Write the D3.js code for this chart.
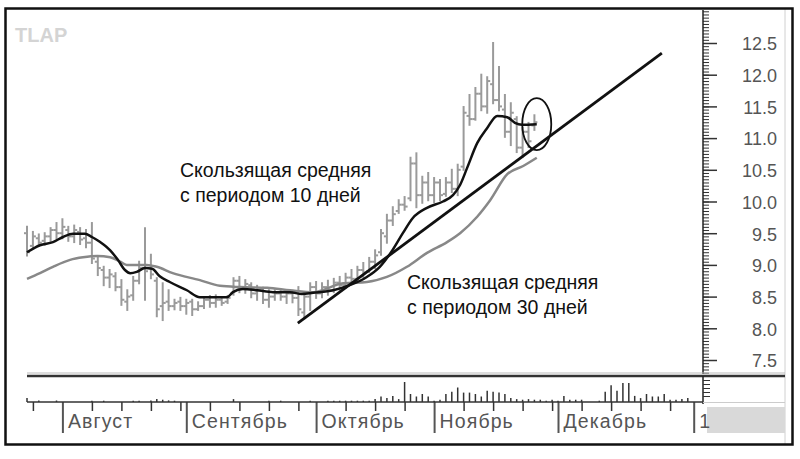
<!DOCTYPE html>
<html>
<head>
<meta charset="utf-8">
<script src="https://cdnjs.cloudflare.com/ajax/libs/d3/7.8.5/d3.min.js"></script>
<style>
  body { margin: 0; background: #fff; }
  text { font-family: Arial, "Liberation Sans", sans-serif; }
</style>
</head>
<body>
<script>
// Daily price bars (trading day index 0..86)
var barHigh = [9.60, 9.52, 9.48, 9.50, 9.58, 9.66, 9.72, 9.60, 9.62, 9.58,
  9.55, 9.66, 9.12, 8.97, 8.92, 8.87, 8.76, 8.60, 8.81, 9.05,
  9.58, 9.16, 8.79, 8.71, 8.60, 8.45, 8.48, 8.45, 8.45, 8.41,
  8.48, 8.51, 8.52, 8.49, 8.51, 8.79, 8.81, 8.76, 8.71, 8.67,
  8.64, 8.60, 8.60, 8.60, 8.60, 8.59, 8.65, 8.56, 8.71, 8.73,
  8.71, 8.75, 8.78, 8.81, 8.86, 8.92, 8.97, 9.03, 9.11, 9.23,
  9.55, 9.79, 9.91, 10.02, 10.07, 10.69, 10.76, 10.39, 10.45, 10.37,
  10.34, 10.37, 10.50, 10.58, 11.49, 11.68, 11.79, 12.00, 11.96, 12.50,
  12.12, 11.68, 11.55, 11.33, 11.16, 11.24, 11.36];
var barLow = [9.15, 9.28, 9.30, 9.32, 9.38, 9.42, 9.42, 9.38, 9.36, 9.33,
  9.28, 9.03, 8.84, 8.68, 8.65, 8.60, 8.37, 8.29, 8.45, 8.71,
  8.45, 8.79, 8.19, 8.13, 8.29, 8.30, 8.29, 8.23, 8.21, 8.29,
  8.32, 8.34, 8.34, 8.37, 8.40, 8.53, 8.57, 8.56, 8.49, 8.45,
  8.40, 8.34, 8.45, 8.45, 8.40, 8.41, 8.21, 8.16, 8.29, 8.48,
  8.49, 8.53, 8.57, 8.60, 8.64, 8.71, 8.75, 8.81, 8.89, 8.95,
  9.16, 9.35, 9.63, 9.82, 9.87, 10.02, 9.91, 9.98, 10.02, 9.99,
  10.02, 10.09, 10.15, 10.10, 10.50, 11.21, 11.29, 11.44, 11.40, 11.55,
  11.44, 11.02, 10.89, 10.78, 10.70, 10.86, 11.13];
var barOpen = [9.50, 9.30, 9.42, 9.38, 9.45, 9.55, 9.50, 9.55, 9.45, 9.52,
  9.42, 9.35, 9.05, 8.92, 8.80, 8.82, 8.65, 8.42, 8.52, 8.75,
  8.95, 8.95, 8.75, 8.35, 8.42, 8.35, 8.42, 8.35, 8.42, 8.30,
  8.35, 8.45, 8.40, 8.45, 8.42, 8.55, 8.75, 8.62, 8.68, 8.55,
  8.60, 8.45, 8.50, 8.55, 8.50, 8.55, 8.48, 8.25, 8.50, 8.65,
  8.55, 8.65, 8.60, 8.72, 8.68, 8.80, 8.78, 8.92, 8.90, 9.05,
  9.20, 9.45, 9.70, 9.85, 9.95, 10.05, 10.60, 10.10, 10.30, 10.10,
  10.30, 10.12, 10.30, 10.20, 10.55, 11.35, 11.30, 11.70, 11.50, 11.85,
  11.60, 11.45, 11.10, 11.30, 10.85, 11.10, 11.20];
var barClose = [9.20, 9.45, 9.35, 9.45, 9.55, 9.50, 9.60, 9.45, 9.55, 9.40,
  9.35, 9.10, 8.95, 8.80, 8.85, 8.65, 8.45, 8.50, 8.75, 8.95,
  8.90, 8.85, 8.30, 8.40, 8.35, 8.40, 8.35, 8.40, 8.30, 8.35,
  8.45, 8.40, 8.45, 8.40, 8.48, 8.75, 8.62, 8.70, 8.55, 8.60,
  8.45, 8.50, 8.55, 8.50, 8.55, 8.48, 8.30, 8.50, 8.65, 8.55,
  8.65, 8.60, 8.72, 8.68, 8.80, 8.78, 8.92, 8.88, 9.05, 9.15,
  9.50, 9.70, 9.80, 9.95, 9.92, 10.60, 10.10, 10.30, 10.10, 10.30,
  10.10, 10.30, 10.20, 10.50, 11.40, 11.30, 11.70, 11.50, 11.90, 11.60,
  11.50, 11.10, 11.40, 10.85, 11.10, 10.95, 11.25];

// 10-day moving average
var ma10Day = [0, 2.2, 4.4, 6.1, 7.8, 9.8, 11, 12.4, 14.1, 15.4, 16.6, 17.5, 18.6, 20, 21.2,
  22.5, 24.2, 27.1, 29.3, 32.2, 33.9, 34.9, 36.6, 39, 41.7, 44.6, 46.6, 48.5, 51.9, 54.7,
  57.6, 59.8, 62, 63.7, 65.4, 67.8, 70.5, 72.2, 73.4, 74.6, 76.3, 78, 79.7, 81.4, 82.7, 83.9, 86.4];
var ma10Value = [9.20, 9.31, 9.36, 9.44, 9.49, 9.49, 9.44, 9.36, 9.23, 9.08, 8.92, 8.87, 8.89, 8.95, 8.94,
  8.82, 8.73, 8.60, 8.49, 8.49, 8.49, 8.57, 8.62, 8.60, 8.57, 8.57, 8.54, 8.56, 8.60, 8.68,
  8.81, 8.97, 9.24, 9.50, 9.74, 9.90, 10.00, 10.10, 10.26, 10.53, 10.92, 11.16, 11.35, 11.33, 11.24, 11.21, 11.22];

// 30-day moving average
var ma30Day = [0, 2.2, 4.4, 7.3, 9.5, 11.9, 14.1, 15.8, 16.9, 20.3, 22, 24.7, 29.3, 32.7, 36.1,
  40.7, 44.6, 48.5, 53.6, 57.6, 61, 64.4, 67.8, 71.2, 73.4, 76.3, 78.5, 81.4, 84.1, 86.4];
var ma30Value = [8.78, 8.87, 8.97, 9.08, 9.12, 9.14, 9.12, 9.05, 9.00, 9.00, 8.97, 8.87, 8.76, 8.67, 8.65,
  8.64, 8.60, 8.57, 8.71, 8.73, 8.81, 8.97, 9.19, 9.36, 9.50, 9.76, 10.02, 10.43, 10.56, 10.69];

// trend line end points
var trendDay = [45.9, 107.6];
var trendValue = [8.08, 12.34];

// circled point
var markDay = 86.4;
var markValue = 11.22;

// daily volume (index 0..114)
var volume = [4, 0, 1.5, 0, 0, 1.5, 0, 0, 0, 0,
  0, 1.3, 0, 1.3, 0, 0, 0, 0, 1.3, 1.3,
  0, 1.6, 2.9, 2.3, 1.6, 1.3, 0, 0, 0, 0,
  0, 0, 0, 0, 0, 2.9, 0, 0, 0, 0,
  0, 1.3, 0, 1.3, 0, 0, 0, 0, 1.3, 0,
  0, 1.3, 1.3, 1.3, 1.3, 1.3, 1.3, 1.3, 1.3, 2.9,
  5.5, 3.9, 6.1, 2.9, 20, 8, 5.5, 8, 5.5, 1.3,
  2.3, 8, 10.3, 14.5, 9.4, 9.4, 8, 5.5, 11.3, 10.3,
  9.4, 8, 3.9, 2.9, 2.3, 2.9, 2.3, 2.3, 1.3, 2.3,
  1.3, 6.1, 2.3, 2.3, 2.3, 0, 0, 1.3, 10.3, 16.8,
  11.3, 19, 19, 6.1, 3.9, 8, 5.5, 5.5, 8, 2.3,
  2.3, 2.9, 3.9, 0, 0];

var monthNames = ["Август", "Сентябрь", "Октябрь", "Ноябрь", "Декабрь", "1"];
var monthStartDay = [6, 27, 49, 69, 90, 113];
var weekDays = [1, 11, 16, 21, 26, 31, 36, 41, 46, 54, 59, 64, 74, 79, 84, 89, 94, 99, 104, 109];
var priceTicks = [7.5, 8.0, 8.5, 9.0, 9.5, 10.0, 10.5, 11.0, 11.5, 12.0, 12.5];

var note10 = ["Скользящая средняя", "с периодом 10 дней"];
var note30 = ["Скользящая средняя", "с периодом 30 дней"];

var svgWidth = 800;
var svgHeight = 459;

var svg = d3.select("body")
  .append("svg")
  .attr("width", svgWidth)
  .attr("height", svgHeight);

// scales: day index -> x, price -> y, volume -> y in lower panel
var xScale = d3.scaleLinear().domain([0, 115]).range([27, 705.5]);
var yScale = d3.scaleLinear().domain([7.5, 12.5]).range([360, 43]);
var volScale = d3.scaleLinear().domain([0, 26]).range([402, 376]);

var axisX = 703;

// outer frame and the light inner edge
svg.append("line").attr("x1", 785).attr("x2", 785).attr("y1", 9).attr("y2", 444)
  .attr("stroke", "#d0d0d0").attr("stroke-width", 1);
svg.append("rect")
  .attr("x", 5.5).attr("y", 8.5).attr("width", 787).attr("height", 436)
  .attr("fill", "none").attr("stroke", "#111").attr("stroke-width", 2.5);

// watermark
svg.append("text")
  .attr("x", 15).attr("y", 42)
  .attr("font-size", 20).attr("font-weight", "bold")
  .attr("fill", "#d4d4d4")
  .text("TLAP");

// price bars
var bars = svg.append("g")
  .attr("stroke", "#9a9a9a")
  .attr("stroke-width", 2);

barHigh.forEach(function(h, i) {
  var x = xScale(i);
  bars.append("line").attr("x1", x).attr("x2", x)
    .attr("y1", yScale(h) - 1).attr("y2", yScale(barLow[i]) + 1);
  bars.append("line").attr("x1", x - 3).attr("x2", x)
    .attr("y1", yScale(barOpen[i])).attr("y2", yScale(barOpen[i]));
  bars.append("line").attr("x1", x).attr("x2", x + 3)
    .attr("y1", yScale(barClose[i])).attr("y2", yScale(barClose[i]));
});

// moving averages
var maLine = d3.line()
  .x(function(d) { return xScale(d[0]); })
  .y(function(d) { return yScale(d[1]); })
  .curve(d3.curveMonotoneX);

svg.append("path")
  .attr("d", maLine(d3.zip(ma30Day, ma30Value)))
  .attr("fill", "none")
  .attr("stroke", "#888")
  .attr("stroke-width", 2.5);

svg.append("path")
  .attr("d", maLine(d3.zip(ma10Day, ma10Value)))
  .attr("fill", "none")
  .attr("stroke", "#111")
  .attr("stroke-width", 2.5);

// trend line
svg.append("line")
  .attr("x1", xScale(trendDay[0])).attr("y1", yScale(trendValue[0]))
  .attr("x2", xScale(trendDay[1])).attr("y2", yScale(trendValue[1]))
  .attr("stroke", "#111")
  .attr("stroke-width", 2.8);

// circle round the last point
svg.append("ellipse")
  .attr("cx", xScale(markDay)).attr("cy", yScale(markValue))
  .attr("rx", 14.5).attr("ry", 26)
  .attr("fill", "none")
  .attr("stroke", "#111")
  .attr("stroke-width", 1.8);

// annotations
function addNote(lines, x, y) {
  lines.forEach(function(t, k) {
    svg.append("text")
      .attr("x", x).attr("y", y + k * 25)
      .attr("font-size", 19.5)
      .attr("fill", "#111")
      .text(t);
  });
}
addNote(note10, 180, 177);
addNote(note30, 407, 289);

// right price axis: minor ticks then labelled ticks
var minorTicks = d3.range(7.3, 13.01, 0.05);
svg.append("g")
  .attr("transform", "translate(" + axisX + ",0)")
  .call(d3.axisRight(yScale).tickValues(minorTicks).tickSize(6).tickFormat(""))
  .call(function(g) { g.select(".domain").remove(); })
  .selectAll("line").attr("stroke", "#333");

var priceAxis = svg.append("g")
  .attr("transform", "translate(" + axisX + ",0)")
  .call(d3.axisRight(yScale).tickValues(priceTicks).tickSize(14).tickFormat(d3.format(".1f")));
priceAxis.select(".domain").remove();
priceAxis.selectAll("line").attr("stroke", "#333").attr("stroke-width", 1.5);
priceAxis.selectAll("text")
  .attr("x", 74)
  .attr("dy", "0.38em")
  .attr("text-anchor", "end")
  .attr("font-size", 18)
  .attr("fill", "#555");

svg.append("line").attr("x1", axisX).attr("x2", axisX).attr("y1", 10).attr("y2", 374)
  .attr("stroke", "#222").attr("stroke-width", 1.5);

// panel separator
svg.append("line").attr("x1", 27).attr("x2", 785).attr("y1", 373).attr("y2", 373)
  .attr("stroke", "#bbb").attr("stroke-width", 1);
svg.append("line").attr("x1", 27).attr("x2", 785).attr("y1", 376).attr("y2", 376)
  .attr("stroke", "#333").attr("stroke-width", 2.5);

// volume bars (skip empty days)
var volumeDays = volume
  .map(function(v, i) { return { day: i, value: v }; })
  .filter(function(d) { return d.value > 0; });

svg.append("g")
  .selectAll("line")
  .data(volumeDays)
  .enter()
  .append("line")
  .attr("x1", function(d) { return xScale(d.day); })
  .attr("x2", function(d) { return xScale(d.day); })
  .attr("y1", volScale(0))
  .attr("y2", function(d) { return volScale(d.value); })
  .attr("stroke", "#333")
  .attr("stroke-width", 1.5);

// volume panel right axis
svg.append("line").attr("x1", axisX).attr("x2", axisX).attr("y1", 376).attr("y2", 404)
  .attr("stroke", "#222").attr("stroke-width", 1.5);
svg.append("g")
  .attr("transform", "translate(" + axisX + ",0)")
  .call(d3.axisRight(volScale).tickValues([6, 10, 14, 18, 22]).tickSize(7).tickFormat(""))
  .call(function(g) { g.select(".domain").remove(); })
  .selectAll("line").attr("stroke", "#333");
svg.append("line").attr("x1", axisX).attr("x2", 785).attr("y1", 402.5).attr("y2", 402.5)
  .attr("stroke", "#ccc").attr("stroke-width", 1);
svg.append("rect")
  .attr("x", 707).attr("y", 407).attr("width", 78).attr("height", 26)
  .attr("fill", "#d9d9d9");

// time axis: weekly ticks and month ticks with labels
var weekAxis = svg.append("g")
  .attr("transform", "translate(0,402)")
  .call(d3.axisBottom(xScale).tickValues(weekDays).tickSize(9).tickFormat(""));
weekAxis.select(".domain").remove();
weekAxis.selectAll("line").attr("stroke", "#333").attr("stroke-width", 1.5);

var monthAxis = svg.append("g")
  .attr("transform", "translate(0,402)")
  .call(d3.axisBottom(xScale).tickValues(monthStartDay).tickSize(31)
    .tickFormat(function(d, i) { return monthNames[i]; }));
monthAxis.select(".domain").remove();
monthAxis.selectAll("line").attr("stroke", "#555").attr("stroke-width", 2);
monthAxis.selectAll("text")
  .attr("x", 5)
  .attr("y", 26)
  .attr("dy", 0)
  .attr("text-anchor", "start")
  .attr("font-size", 19.5)
  .attr("letter-spacing", 1.1)
  .attr("fill", "#555");

svg.append("line").attr("x1", 27).attr("x2", axisX).attr("y1", 402).attr("y2", 402)
  .attr("stroke", "#333").attr("stroke-width", 1.5);
</script>
</body>
</html>
